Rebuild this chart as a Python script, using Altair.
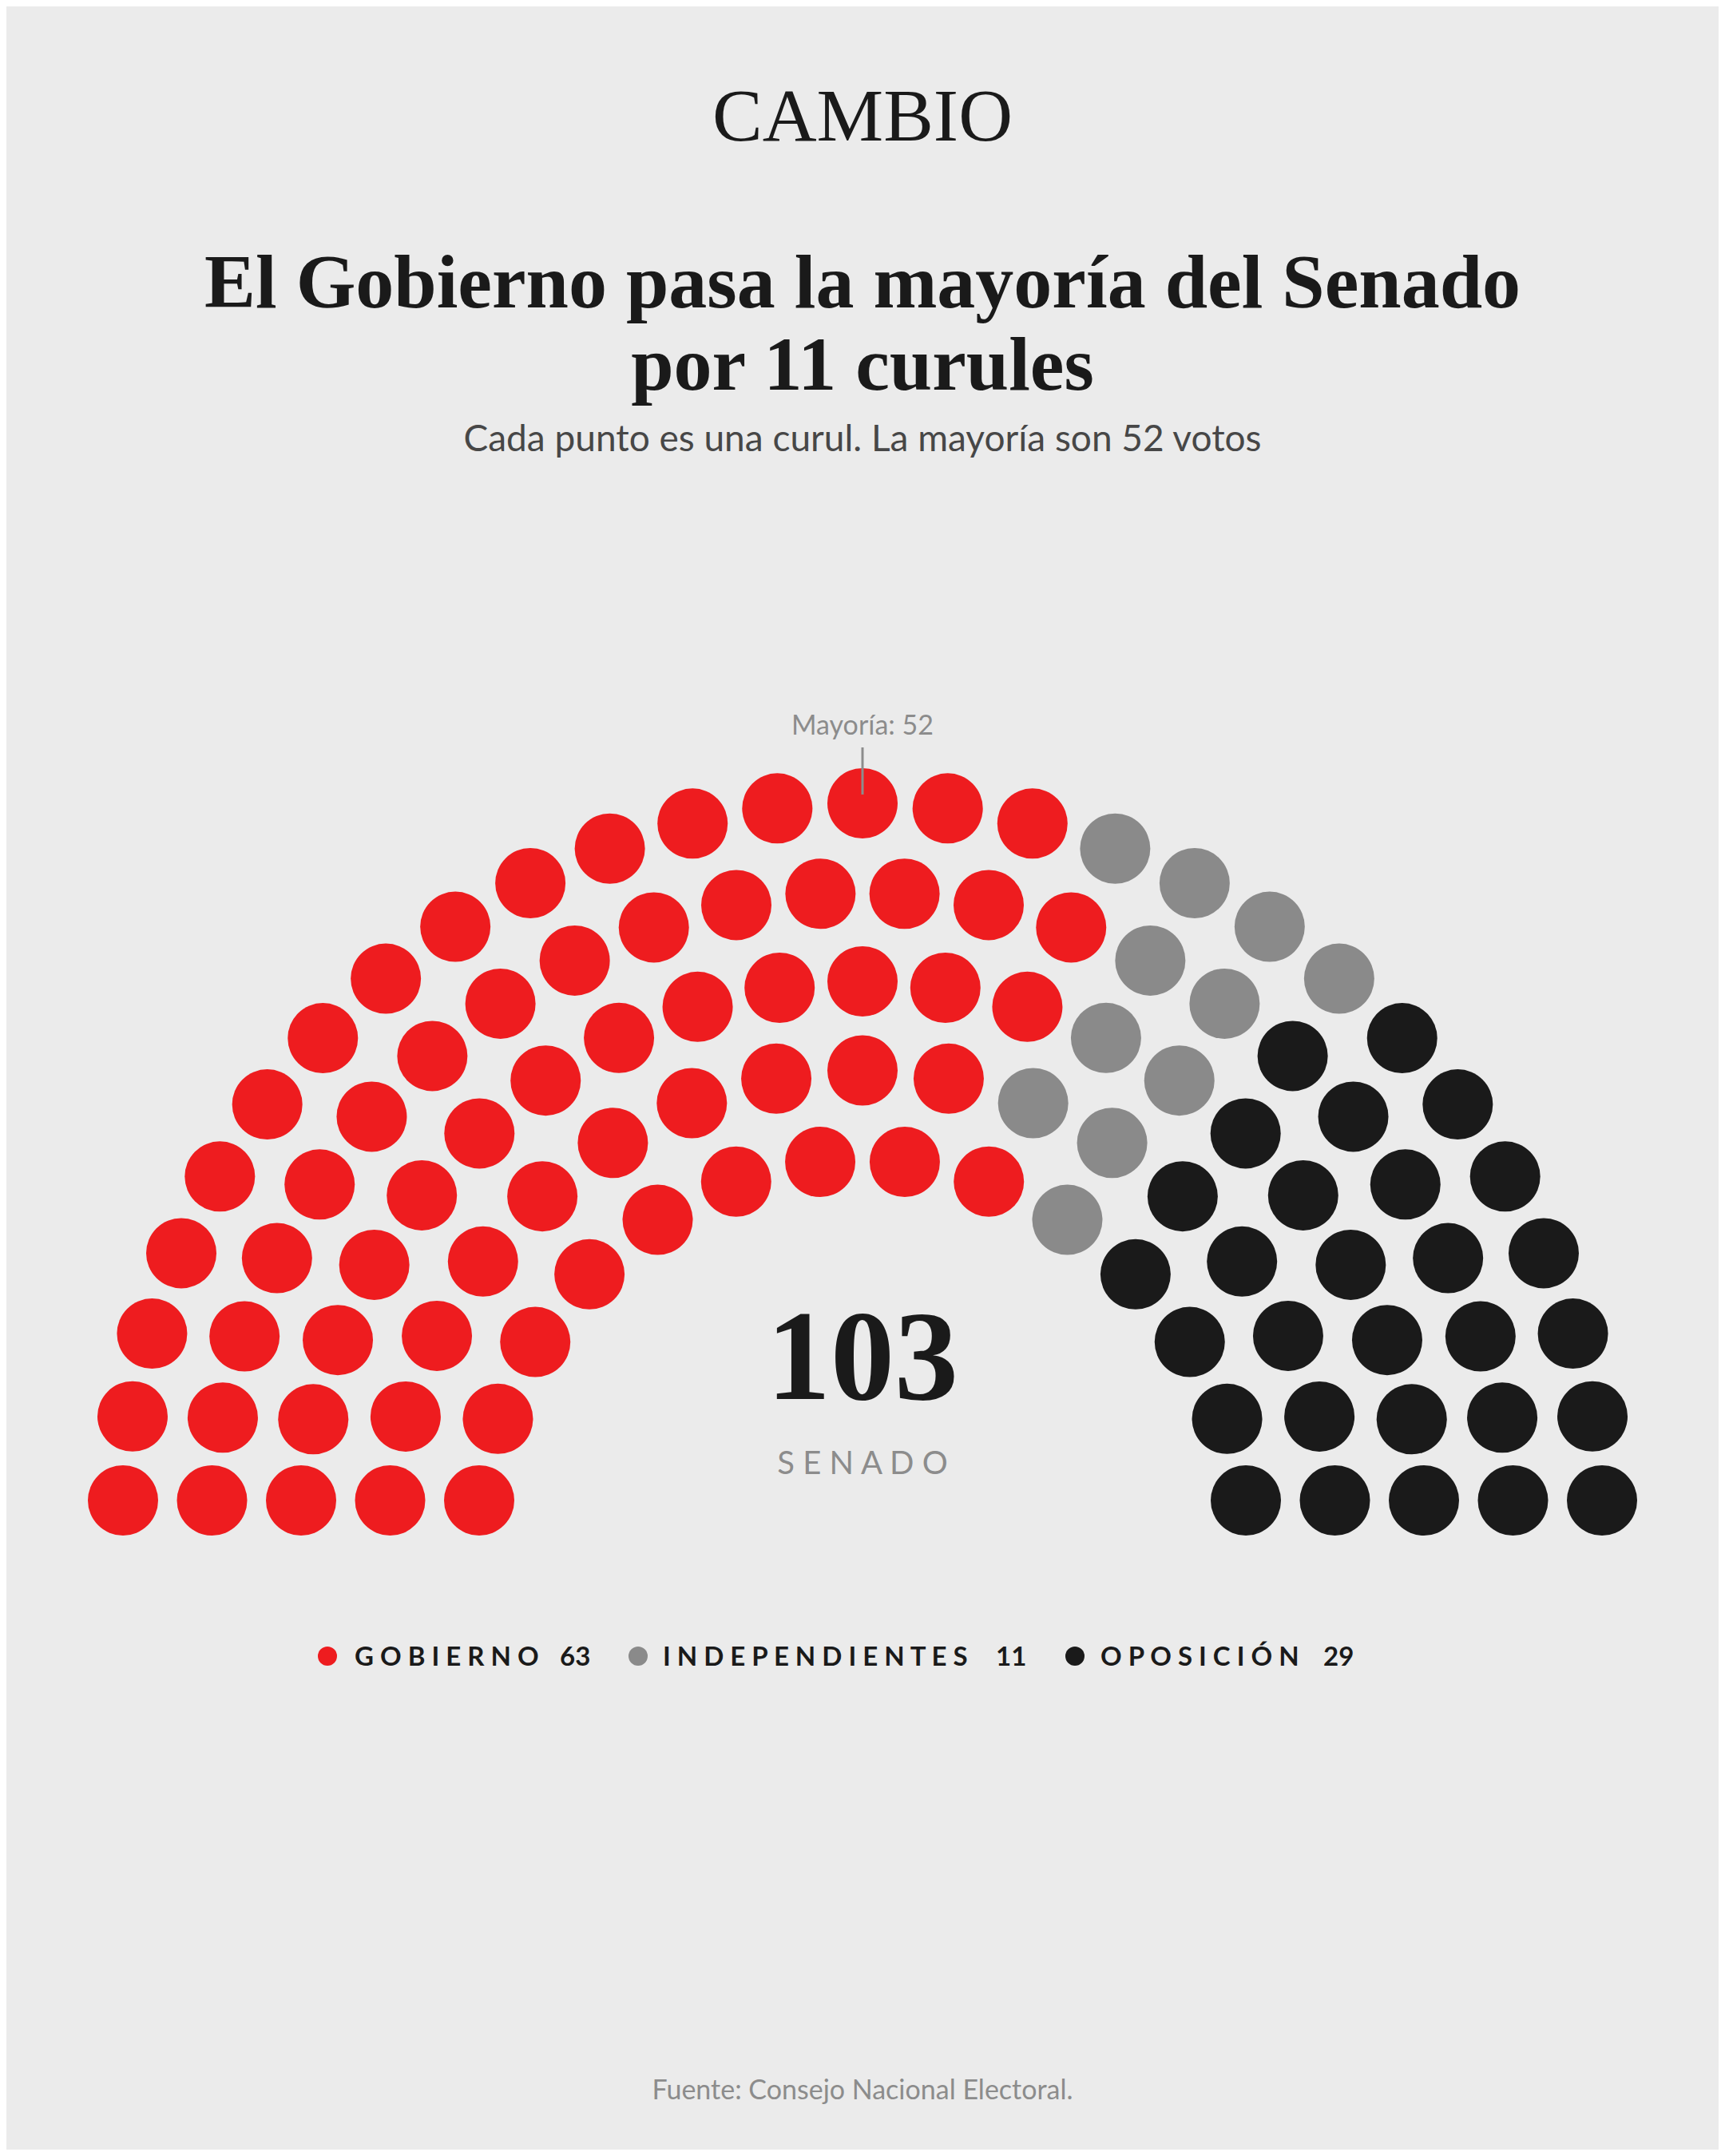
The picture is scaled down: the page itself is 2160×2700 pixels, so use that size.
import math
import altair as alt
import pandas as pd

# ---------------- data ----------------
ROW_SEATS = [27, 24, 21, 17, 14]          # seats per row, outer -> inner
PARTIES = ["Gobierno", "Independientes", "Oposición"]
SEATS = [63, 11, 29]
COLORS = ["#ee1c1f", "#8a8a8a", "#1a1a1a"]
MAJORITY = 52
CHAMBER = "SENADO"

LOGO = "CAMBIO"
TITLE_1 = "El Gobierno pasa la mayoría del Senado"
TITLE_2 = "por 11 curules"
SUBTITLE = "Cada punto es una curul. La mayoría son 52 votos"
SOURCE = "Fuente: Consejo Nacional Electoral."

# ---------------- layout (hemicycle geometry, px) ----------------
W, H = 2144, 2684
OUTER_R = 873.0
ROW_GAP = 111.5
X_EXTRA = 53.0
DOT_SIZE = 88 ** 2     # vega symbol size = bounding-box area

seats = []
for r, n in enumerate(ROW_SEATS):
    b = OUTER_R - r * ROW_GAP
    for i in range(n):
        frac = i / (n - 1)
        phi = math.pi * (1 - frac)
        u = 2 * frac - 1
        x = b * math.cos(phi) + X_EXTRA * math.copysign(abs(u) ** 1.4, u)
        y = b * math.sin(phi)
        seats.append({"row": r, "frac": round(frac, 9), "x": x, "y": y})

seats.sort(key=lambda s: (s["frac"], -s["row"]))
party_seq = []
for p, c in zip(PARTIES, SEATS):
    party_seq += [p] * c
for s, p in zip(seats, party_seq):
    s["party"] = p
seat_df = pd.DataFrame(seats)

xs = alt.Scale(domain=[-W / 2, W / 2], nice=False, zero=False)
ys = alt.Scale(domain=[-813, H - 813], nice=False, zero=False)

dots = alt.Chart(seat_df).mark_circle(size=DOT_SIZE, opacity=1).encode(
    x=alt.X("x:Q", scale=xs, axis=None),
    y=alt.Y("y:Q", scale=ys, axis=None),
    color=alt.Color("party:N", scale=alt.Scale(domain=PARTIES, range=COLORS), legend=None),
)

maj_df = pd.DataFrame({"x": [0.0], "y": [OUTER_R + 70], "y2": [OUTER_R + 11]})
maj_rule = alt.Chart(maj_df).mark_rule(color="#8c8c8c", strokeWidth=3).encode(
    x=alt.X("x:Q", scale=xs, axis=None),
    y=alt.Y("y:Q", scale=ys, axis=None),
    y2="y2:Q",
)


def txt(s, x, y, size, font, color, weight="normal", align="center"):
    return alt.Chart(pd.DataFrame({"t": [s]})).mark_text(
        font=font, fontSize=size, fontWeight=weight, color=color,
        align=align, baseline="alphabetic",
    ).encode(x=alt.value(x), y=alt.value(y), text="t:N")


SERIF = "Liberation Serif"
SANS = "Lato"
layers = [dots, maj_rule]
layers.append(txt(f"Mayoría: {MAJORITY}", 1072, 912, 34, SANS, "#8c8c8c"))
layers.append(txt(LOGO, 1072, 168, 94, SERIF, "#1a1a1a"))
layers.append(txt(TITLE_1, 1072, 377, 96, SERIF, "#1a1a1a", "bold"))
layers.append(txt(TITLE_2, 1072, 480, 96, SERIF, "#1a1a1a", "bold"))
layers.append(txt(SUBTITLE, 1072, 557, 46, SANS, "#474747"))
layers.append(txt(str(sum(SEATS)), 1072, 1744, 160, SERIF, "#1a1a1a", "bold"))
layers.append(txt(" ".join(CHAMBER), 1072, 1838, 40, SANS, "#8c8c8c"))
layers.append(txt(SOURCE, 1072, 2621, 34, SANS, "#8c8c8c"))

LEG_DOT_X = [402, 791, 1338]
LEG_NAME_X = [436, 822, 1370]
LEG_NUM_X = [693, 1239, 1649]
for i, (p, c) in enumerate(zip(PARTIES, SEATS)):
    layers.append(
        alt.Chart(pd.DataFrame({"p": [p]})).mark_circle(size=576, opacity=1, color=COLORS[i]).encode(
            x=alt.value(LEG_DOT_X[i]), y=alt.value(2066)
        )
    )
    layers.append(txt(" ".join(p.upper()), LEG_NAME_X[i], 2078, 33, SANS, "#1a1a1a", "bold", "left"))
    layers.append(txt(str(c), LEG_NUM_X[i], 2078, 33, SANS, "#1a1a1a", "bold", "left"))

chart = alt.layer(*layers).properties(
    width=W, height=H, autosize=alt.AutoSizeParams(type="none"), padding=0,
    background="#ebebeb",
).configure_view(stroke=None)

chart.save("out.html", embed_options={"renderer": "svg", "actions": False})
